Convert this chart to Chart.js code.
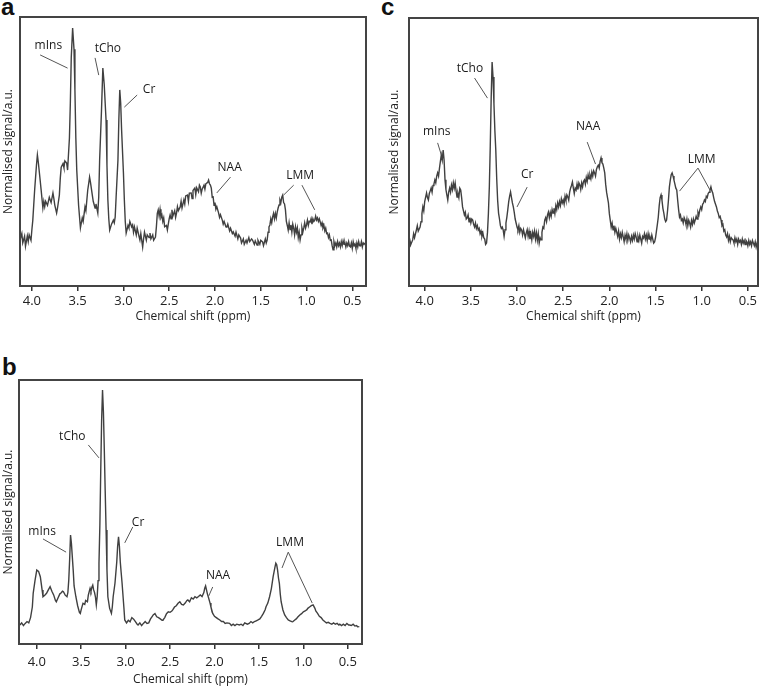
<!DOCTYPE html>
<html lang="en">
<head>
<meta charset="UTF-8">
<title>MRS spectra</title>
<script src="https://cdn.jsdelivr.net/npm/chart.js"></script>
<style>
  body { margin: 0; background: #fff; }
  #page { position: relative; width: 761px; height: 690px; overflow: hidden; }
  .panel { position: absolute; }
  .tag { position: absolute; font: bold 24px 'Liberation Sans', Arial, sans-serif; line-height: 1; color: #111; }
</style>
</head>
<body>
<div id="page">
  <div class="tag" style="left:1px;top:-5px">a</div>
  <div class="tag" style="left:381px;top:-5px">c</div>
  <div class="tag" style="left:2px;top:355px">b</div>
  <div class="panel" style="left:0;top:0"><canvas id="chartA" width="380" height="325"></canvas></div>
  <div class="panel" style="left:380px;top:0"><canvas id="chartC" width="381" height="325"></canvas></div>
  <div class="panel" style="left:0;top:330px"><canvas id="chartB" width="380" height="360"></canvas></div>
</div>
<script>
// chemical shift ticks (ppm)
const tickPpm = [4.0, 3.5, 3.0, 2.5, 2.0, 1.5, 1.0, 0.5];

// panel a
const ppmA = [
  4.13,4.11,4.10,4.08,4.07,4.05,4.04,4.03,4.01,4.00,
  3.99,3.97,3.95,3.94,3.93,3.91,3.90,3.88,3.87,3.86,
  3.85,3.83,3.81,3.79,3.77,3.76,3.75,3.73,3.72,3.70,
  3.69,3.68,3.66,3.65,3.64,3.62,3.61,3.59,3.58,3.57,
  3.555,3.54,3.53,3.52,3.51,3.49,3.47,3.46,3.45,3.44,
  3.42,3.41,3.39,3.38,3.37,3.36,3.34,3.33,3.31,3.30,
  3.28,3.27,3.26,3.24,3.225,3.21,3.19,3.18,3.17,3.16,
  3.15,3.13,3.11,3.10,3.09,3.08,3.06,3.05,3.04,3.03,
  3.02,3.00,2.99,2.98,2.97,2.95,2.94,2.93,2.91,2.90,
  2.89,2.88,2.86,2.85,2.83,2.82,2.81,2.79,2.78,2.77,
  2.75,2.74,2.72,2.71,2.70,2.68,2.67,2.65,2.64,2.63,
  2.62,2.61,2.60,2.59,2.58,2.57,2.56,2.55,2.53,2.52,
  2.51,2.50,2.49,2.48,2.47,2.46,2.44,2.43,2.42,2.41,
  2.40,2.38,2.37,2.36,2.34,2.33,2.32,2.30,2.29,2.28,
  2.26,2.25,2.24,2.22,2.21,2.20,2.18,2.17,2.16,2.15,
  2.14,2.12,2.11,2.10,2.08,2.07,2.06,2.05,2.04,2.03,
  2.02,2.01,2.00,1.99,1.98,1.96,1.95,1.94,1.92,1.91,
  1.90,1.88,1.87,1.86,1.84,1.83,1.81,1.80,1.78,1.77,
  1.75,1.74,1.72,1.71,1.69,1.68,1.66,1.65,1.63,1.62,
  1.60,1.59,1.57,1.56,1.54,1.53,1.51,1.50,1.48,1.47,
  1.45,1.44,1.43,1.42,1.41,1.40,1.39,1.38,1.37,1.36,
  1.35,1.34,1.33,1.32,1.31,1.30,1.29,1.28,1.27,1.26,
  1.25,1.24,1.23,1.22,1.21,1.20,1.19,1.18,1.17,1.16,
  1.15,1.14,1.13,1.12,1.11,1.10,1.09,1.08,1.07,1.06,
  1.05,1.04,1.03,1.02,1.01,1.00,0.99,0.98,0.97,0.96,
  0.95,0.94,0.93,0.92,0.91,0.90,0.89,0.88,0.87,0.86,
  0.85,0.84,0.83,0.82,0.81,0.80,0.79,0.78,0.77,0.76,
  0.75,0.74,0.73,0.72,0.71,0.70,0.69,0.68,0.67,0.66,
  0.65,0.64,0.63,0.62,0.61,0.60,0.59,0.58,0.57,0.56,
  0.55,0.54,0.53,0.52,0.51,0.50,0.49,0.48,0.47,0.46,
  0.45,0.44,0.43,0.42,0.41,0.40,0.39,0.38,0.37,0.36];
const sigA = [
  17.1,19.5,16.0,18.5,14.8,18.6,16.5,19.0,17.0,21.0,
  24.5,35.7,45.0,48.7,46.0,39.4,36.0,29.0,31.5,29.5,
  31.5,30.0,33.0,31.0,34.6,32.5,30.1,27.1,29.0,33.8,
  40.0,44.2,45.5,44.0,46.5,45.7,43.1,55.0,68.0,85.0,
  95.9,88.0,72.9,55.0,43.1,30.0,21.6,23.5,25.3,24.0,
  29.4,28.0,35.7,38.0,40.5,38.5,33.8,31.5,29.0,30.5,
  27.1,33.0,46.8,65.0,81.0,75.0,61.7,45.0,32.0,25.0,
  20.8,23.0,24.5,23.5,25.7,33.0,46.8,62.0,72.9,68.0,
  58.0,42.0,32.0,24.0,19.7,22.5,21.6,24.0,22.0,22.7,
  20.0,22.0,19.0,21.5,18.5,17.1,19.5,14.5,17.5,20.0,
  17.0,19.0,18.0,19.7,17.5,19.0,17.0,18.2,22.0,27.0,
  28.3,26.0,28.5,25.5,26.4,24.0,25.3,22.0,22.5,20.8,
  23.0,25.0,26.4,25.0,28.3,26.0,28.0,25.5,27.1,29.5,
  28.0,29.4,31.5,29.0,32.0,30.5,33.5,33.8,31.5,34.5,
  34.6,32.5,35.5,36.4,34.0,36.5,35.0,37.5,36.8,34.5,
  36.0,37.5,36.0,38.0,38.5,39.4,38.0,37.5,36.4,33.0,
  33.1,30.0,31.0,28.5,29.5,27.1,25.5,26.5,24.5,23.0,
  24.0,22.0,21.9,23.0,20.5,21.5,19.5,20.1,18.5,20.0,
  17.5,19.0,17.8,16.0,17.5,15.5,17.0,16.0,18.0,16.5,
  17.5,17.1,15.5,16.8,15.2,17.0,15.5,17.0,16.4,15.0,
  17.5,16.0,17.1,20.0,22.0,22.7,25.0,23.5,25.7,27.0,
  25.0,27.0,25.3,27.5,29.0,30.1,32.0,31.0,33.0,33.8,
  31.0,30.5,28.3,24.0,22.5,20.8,23.5,21.0,22.7,20.0,
  23.0,21.5,19.0,22.0,20.0,21.6,18.0,20.0,17.1,19.0,
  21.6,20.0,21.6,23.5,21.5,22.7,24.5,22.5,24.0,23.8,
  25.0,23.0,25.0,24.0,24.5,26.0,24.5,25.3,24.0,25.0,
  23.8,22.5,23.5,21.6,22.5,20.5,21.5,19.5,19.7,18.0,
  19.0,17.0,17.1,15.0,13.5,16.5,15.0,16.0,14.5,16.5,
  15.0,16.0,14.5,16.5,15.0,16.8,15.5,16.0,14.5,16.0,
  15.0,16.5,14.8,14.5,16.0,14.0,16.5,15.0,15.6,14.0,
  16.0,14.5,16.5,15.0,14.9,16.5,14.5,16.0,15.5,16.0];

// panel b
const ppmB = [
  4.19,4.17,4.15,4.13,4.11,4.09,4.07,4.05,4.04,4.02,
  4.00,3.98,3.96,3.94,3.93,3.91,3.89,3.87,3.85,3.83,
  3.81,3.79,3.78,3.76,3.74,3.73,3.71,3.70,3.68,3.66,
  3.65,3.64,3.63,3.62,3.61,3.60,3.59,3.58,3.56,3.54,
  3.52,3.51,3.50,3.48,3.46,3.45,3.43,3.42,3.40,3.39,
  3.38,3.37,3.36,3.35,3.34,3.33,3.32,3.31,3.30,3.29,
  3.28,3.27,3.26,3.25,3.24,3.23,3.22,3.21,3.20,3.18,
  3.16,3.15,3.14,3.12,3.10,3.09,3.08,3.07,3.06,3.05,
  3.04,3.02,3.01,2.99,2.97,2.95,2.93,2.91,2.89,2.87,
  2.86,2.84,2.82,2.80,2.78,2.76,2.74,2.72,2.70,2.69,
  2.67,2.65,2.63,2.61,2.59,2.58,2.56,2.54,2.52,2.50,
  2.48,2.47,2.45,2.43,2.41,2.39,2.37,2.35,2.33,2.31,
  2.30,2.28,2.26,2.24,2.22,2.20,2.18,2.16,2.14,2.12,
  2.11,2.10,2.09,2.08,2.07,2.05,2.04,2.02,2.00,1.98,
  1.96,1.94,1.92,1.90,1.88,1.86,1.83,1.81,1.79,1.77,
  1.75,1.72,1.70,1.68,1.66,1.63,1.61,1.59,1.57,1.55,
  1.53,1.51,1.49,1.47,1.45,1.43,1.42,1.40,1.38,1.36,
  1.34,1.32,1.31,1.30,1.29,1.28,1.27,1.26,1.25,1.23,
  1.21,1.19,1.17,1.15,1.13,1.12,1.10,1.08,1.06,1.04,
  1.02,1.00,0.98,0.96,0.95,0.93,0.91,0.89,0.87,0.86,
  0.84,0.82,0.80,0.78,0.76,0.74,0.72,0.70,0.68,0.66,
  0.64,0.62,0.60,0.59,0.57,0.55,0.53,0.51,0.49,0.48,
  0.46,0.44,0.42,0.40,0.39,0.37];
const sigB = [
  7.2,8.0,7.0,7.8,8.5,8.0,10.0,14.0,19.3,24.0,
  28.0,27.5,25.5,20.5,17.9,18.5,19.2,20.5,21.7,20.0,
  18.6,16.5,16.0,17.5,19.0,19.2,20.0,19.8,18.5,17.9,
  19.5,24.2,32.0,41.3,38.0,33.0,28.0,22.0,17.9,14.5,
  12.0,11.6,13.0,15.4,15.0,16.5,16.0,18.5,21.1,20.0,
  21.5,22.3,20.5,19.5,17.9,14.8,18.0,24.0,30.6,45.0,
  65.9,85.0,96.2,88.0,73.5,58.0,43.2,28.0,17.9,13.5,
  11.6,14.0,18.0,23.0,31.0,37.0,40.6,37.0,31.0,27.0,
  23.0,14.0,9.1,8.0,9.0,8.4,10.0,9.4,8.5,7.5,
  7.2,8.0,7.0,7.8,8.5,7.8,8.0,9.5,10.5,11.0,
  11.5,10.3,10.0,9.5,9.0,9.1,10.0,11.5,12.2,12.0,
  12.5,12.9,14.0,14.5,15.4,16.0,15.0,14.8,15.5,16.5,
  16.7,16.0,17.5,17.0,17.9,17.5,18.0,18.6,18.0,19.5,
  21.1,22.0,20.5,19.0,17.9,15.5,14.0,11.6,10.5,10.0,
  9.5,9.1,8.5,8.5,7.8,8.0,7.8,7.0,7.5,7.0,
  7.5,7.2,7.5,7.0,8.0,7.5,7.8,8.5,8.0,8.5,
  8.8,9.1,9.5,10.5,11.6,13.0,14.1,15.5,17.9,21.0,
  25.5,29.0,30.6,30.0,28.0,25.0,23.0,19.0,16.0,12.9,
  11.0,10.0,9.1,8.8,8.5,8.4,9.0,9.5,10.3,11.0,
  11.5,12.2,12.5,13.0,13.5,14.0,14.5,14.8,13.5,12.5,
  11.6,10.5,10.0,9.1,8.5,8.0,8.2,7.8,7.5,8.0,
  7.5,7.8,7.2,7.5,7.0,7.5,7.0,7.8,7.2,7.2,
  7.0,7.5,6.8,7.0,6.5,6.6];

// panel c
const ppmC = [
  4.17,4.16,4.15,4.13,4.12,4.11,4.09,4.08,4.07,4.05,
  4.04,4.03,4.02,4.01,4.00,3.98,3.97,3.96,3.95,3.94,
  3.93,3.92,3.91,3.90,3.89,3.88,3.87,3.86,3.85,3.84,
  3.83,3.82,3.81,3.80,3.79,3.78,3.77,3.76,3.75,3.74,
  3.73,3.72,3.71,3.70,3.69,3.68,3.67,3.66,3.65,3.64,
  3.63,3.62,3.61,3.60,3.59,3.58,3.57,3.56,3.55,3.54,
  3.53,3.52,3.51,3.50,3.49,3.48,3.47,3.46,3.45,3.44,
  3.43,3.42,3.41,3.40,3.39,3.38,3.37,3.36,3.35,3.34,
  3.33,3.32,3.31,3.30,3.29,3.28,3.27,3.26,3.25,3.24,
  3.23,3.22,3.21,3.20,3.19,3.18,3.17,3.16,3.15,3.14,
  3.13,3.12,3.11,3.10,3.09,3.08,3.07,3.06,3.05,3.04,
  3.03,3.02,3.01,3.00,2.99,2.98,2.97,2.96,2.95,2.94,
  2.93,2.92,2.91,2.90,2.89,2.88,2.87,2.86,2.85,2.84,
  2.83,2.82,2.81,2.80,2.79,2.78,2.77,2.76,2.75,2.74,
  2.73,2.72,2.71,2.70,2.69,2.68,2.67,2.66,2.65,2.64,
  2.63,2.62,2.61,2.60,2.59,2.58,2.57,2.56,2.55,2.54,
  2.53,2.52,2.51,2.50,2.49,2.48,2.47,2.46,2.45,2.44,
  2.43,2.42,2.41,2.40,2.39,2.38,2.37,2.36,2.35,2.34,
  2.33,2.32,2.31,2.30,2.29,2.28,2.27,2.26,2.25,2.24,
  2.23,2.22,2.21,2.20,2.19,2.18,2.17,2.16,2.15,2.14,
  2.13,2.12,2.11,2.10,2.09,2.08,2.07,2.06,2.05,2.04,
  2.03,2.02,2.01,2.00,1.99,1.98,1.97,1.96,1.95,1.94,
  1.93,1.92,1.91,1.90,1.89,1.88,1.87,1.86,1.85,1.84,
  1.83,1.82,1.81,1.80,1.79,1.78,1.77,1.76,1.75,1.74,
  1.73,1.72,1.71,1.70,1.69,1.68,1.67,1.66,1.65,1.64,
  1.63,1.62,1.61,1.60,1.59,1.58,1.57,1.56,1.55,1.54,
  1.53,1.52,1.51,1.50,1.49,1.48,1.47,1.46,1.45,1.44,
  1.43,1.42,1.41,1.40,1.39,1.38,1.37,1.36,1.35,1.34,
  1.33,1.32,1.31,1.30,1.29,1.28,1.27,1.26,1.25,1.24,
  1.23,1.22,1.21,1.20,1.19,1.18,1.17,1.16,1.15,1.14,
  1.13,1.12,1.11,1.10,1.09,1.08,1.07,1.06,1.05,1.04,
  1.03,1.02,1.01,1.00,0.99,0.98,0.97,0.96,0.95,0.94,
  0.93,0.92,0.91,0.90,0.89,0.88,0.87,0.86,0.85,0.84,
  0.83,0.82,0.81,0.80,0.79,0.78,0.77,0.76,0.75,0.74,
  0.73,0.72,0.71,0.70,0.69,0.68,0.67,0.66,0.65,0.64,
  0.63,0.62,0.61,0.60,0.59,0.58,0.57,0.56,0.55,0.54,
  0.53,0.52,0.51,0.50,0.49,0.48,0.47,0.46,0.45,0.44,
  0.43,0.42,0.41,0.40,0.39];
const sigC = [
  14.7,17.0,15.5,17.2,19.5,18.0,20.9,22.5,20.5,22.0,
  24.0,27.0,29.5,28.0,31.5,34.7,33.0,32.1,34.5,35.5,
  36.6,35.0,37.5,38.0,39.6,38.5,41.0,42.2,41.0,44.0,
  46.5,48.9,47.0,50.7,47.0,39.6,36.0,34.0,32.1,35.0,
  36.5,35.0,37.7,36.0,38.5,36.5,38.4,35.5,33.2,34.5,
  33.0,36.5,35.8,33.0,29.5,28.0,26.5,27.5,25.0,25.4,
  26.5,24.0,25.5,23.5,25.0,24.6,23.0,22.0,23.5,21.5,
  22.5,20.9,21.5,19.5,20.5,18.5,19.8,18.0,17.5,15.5,
  16.0,20.0,27.0,36.9,52.0,70.0,83.6,78.0,68.0,58.0,
  50.7,40.0,32.0,27.2,25.0,22.5,21.5,22.0,20.9,18.5,
  21.0,23.5,25.7,28.5,31.5,33.5,35.1,33.0,31.0,29.5,
  27.5,25.0,23.5,22.0,21.0,22.5,20.0,21.5,20.9,19.0,
  21.0,19.5,18.0,19.8,21.0,18.5,20.5,17.5,19.5,17.2,
  20.0,18.5,20.5,17.5,19.8,17.0,19.5,16.0,18.0,17.2,
  20.0,22.0,21.5,24.6,25.5,24.0,26.5,27.6,25.5,27.5,
  26.0,28.5,27.2,29.0,27.0,30.0,28.5,31.0,29.5,31.5,
  30.0,32.5,31.0,32.1,30.5,33.5,32.0,34.0,33.2,32.0,
  35.0,36.5,37.5,38.8,36.5,34.5,36.5,35.8,38.0,36.0,
  38.5,37.7,36.0,38.5,37.0,39.0,39.6,38.0,40.5,39.0,
  41.5,40.0,41.4,40.0,42.5,41.0,43.0,42.2,41.0,43.5,
  44.5,45.1,44.0,46.5,47.8,46.0,45.5,44.0,42.2,38.0,
  35.0,33.0,31.0,27.0,24.5,22.0,23.5,21.0,22.5,20.0,
  21.5,20.1,18.5,20.5,17.5,19.5,18.0,20.0,18.3,16.5,
  19.0,17.5,19.5,17.0,19.0,17.9,16.5,18.5,17.0,19.0,
  17.5,19.5,18.3,16.5,18.5,17.0,19.0,17.5,16.0,18.5,
  17.9,19.5,17.5,19.0,17.0,19.5,17.5,18.3,17.0,19.0,
  17.5,16.0,16.4,18.0,20.5,23.0,25.7,30.0,33.0,34.0,
  32.0,29.0,27.2,25.0,24.0,24.6,28.0,32.0,36.9,39.5,
  41.5,42.2,41.0,39.5,38.0,36.5,35.8,32.0,28.5,25.7,
  26.5,24.5,25.0,23.5,25.5,24.6,23.0,25.0,22.5,24.5,
  23.5,22.0,24.5,23.0,25.0,23.5,24.6,26.0,25.0,27.5,
  26.5,28.4,29.5,28.5,30.5,31.0,32.1,31.5,33.5,33.0,
  34.5,35.0,35.8,37.0,35.5,34.7,33.0,31.5,30.5,29.5,
  28.0,27.0,25.5,26.0,24.6,22.5,23.0,20.5,21.0,19.0,
  18.3,19.5,17.0,18.5,16.5,18.0,17.5,17.2,16.0,18.0,
  16.5,17.5,15.5,17.5,16.4,17.0,15.5,17.5,16.0,17.0,
  15.5,17.0,16.4,15.0,17.0,15.5,16.5,15.0,17.0,16.0,
  15.0,16.5,14.5,16.0,15.3];

// peak labels: text position and leader lines, in (ppm, signal)
const labelsA = [
  { text: 'mIns', at: [3.82, 89.2], lines: [[3.91, 85.9, 3.61, 81.0]] },
  { text: 'tCho', at: [3.17, 88.1], lines: [[3.31, 84.8, 3.27, 78.4]] },
  { text: 'Cr',   at: [2.72, 73.2], lines: [[2.85, 71.0, 2.99, 66.5]] },
  { text: 'NAA',  at: [1.84, 44.1], lines: [[1.83, 40.5, 1.98, 34.6]] },
  { text: 'LMM',  at: [1.07, 40.9], lines: [[1.14, 37.5, 1.25, 33.8], [1.05, 37.5, 0.91, 28.3]] }
];
const labelsB = [
  { text: 'mIns', at: [3.94, 42.4], lines: [[3.93, 39.8, 3.67, 34.8]] },
  { text: 'tCho', at: [3.60, 78.4], lines: [[3.42, 75.4, 3.30, 70.5]] },
  { text: 'Cr',   at: [2.86, 46.0], lines: [[2.92, 44.3, 3.01, 38.3]] },
  { text: 'NAA',  at: [1.96, 26.1], lines: [[2.02, 21.6, 2.07, 17.8]] },
  { text: 'LMM',  at: [1.15, 38.3], lines: [[1.17, 34.8, 1.24, 28.8], [1.17, 34.8, 0.90, 15.5]] }
];
const labelsC = [
  { text: 'mIns', at: [3.87, 57.5], lines: [[3.86, 53.4, 3.82, 48.9]] },
  { text: 'tCho', at: [3.51, 81.3], lines: [[3.46, 77.6, 3.32, 70.1]] },
  { text: 'Cr',   at: [2.89, 41.4], lines: [[2.89, 36.9, 3.00, 29.5]] },
  { text: 'NAA',  at: [2.23, 59.3], lines: [[2.24, 53.7, 2.15, 45.5]] },
  { text: 'LMM',  at: [1.00, 47.0], lines: [[1.04, 44.0, 1.24, 35.4], [1.04, 44.0, 0.91, 35.8]] }
];

const FONT = "'Open Sans', 'Liberation Sans', Arial, sans-serif";

// frame box + peak annotations
const peakLabels = {
  id: 'peakLabels',
  afterDatasetsDraw(chart, args, opts) {
    const { ctx, chartArea: a, scales: { x, y } } = chart;
    ctx.save();
    ctx.strokeStyle = '#444';
    ctx.lineWidth = 2;
    ctx.strokeRect(a.left, a.top, a.right - a.left, a.bottom - a.top);
    ctx.strokeStyle = '#555';
    ctx.lineWidth = 1;
    ctx.fillStyle = '#1a1a1a';
    ctx.font = '12px ' + FONT;
    ctx.textAlign = 'center';
    ctx.textBaseline = 'middle';
    (opts.items || []).forEach(item => {
      ctx.fillText(item.text, x.getPixelForValue(item.at[0]), y.getPixelForValue(item.at[1]));
      item.lines.forEach(l => {
        ctx.beginPath();
        ctx.moveTo(x.getPixelForValue(l[0]), y.getPixelForValue(l[1]));
        ctx.lineTo(x.getPixelForValue(l[2]), y.getPixelForValue(l[3]));
        ctx.stroke();
      });
    });
    ctx.restore();
  }
};

function makeChart(id, ppm, sig, labels, cfg) {
  return new Chart(document.getElementById(id), {
    type: 'line',
    data: {
      datasets: [{
        data: ppm.map((p, i) => ({ x: p, y: sig[i] })),
        borderColor: '#404040',
        borderWidth: 1.4,
        pointRadius: 0,
        tension: 0,
        fill: false
      }]
    },
    options: {
      responsive: false,
      animation: false,
      layout: { padding: cfg.padding },
      plugins: {
        legend: { display: false },
        tooltip: { enabled: false },
        peakLabels: { items: labels }
      },
      scales: {
        x: {
          type: 'linear',
          reverse: true,
          min: cfg.xMin,
          max: cfg.xMax,
          afterBuildTicks: s => { s.ticks = tickPpm.map(v => ({ value: v })); },
          afterFit: s => { s.height = cfg.xHeight; },
          ticks: {
            callback: v => Number(v).toFixed(1),
            color: '#222',
            font: { size: 13, family: FONT },
            padding: cfg.tickPad,
            maxRotation: 0,
            autoSkip: false
          },
          grid: { drawOnChartArea: false, tickLength: 5, color: '#333', lineWidth: 1.5 },
          border: { display: false },
          title: {
            display: true,
            text: 'Chemical shift (ppm)',
            color: '#222',
            font: { size: 12, family: FONT },
            padding: { top: 0, bottom: cfg.titlePad }
          }
        },
        y: {
          min: 0,
          max: 100,
          afterFit: s => { s.width = cfg.yWidth; },
          ticks: { display: false },
          grid: { display: false },
          border: { display: false },
          title: {
            display: true,
            text: 'Normalised signal/a.u.',
            color: '#222',
            font: { size: 12, family: FONT },
            padding: { top: 1, bottom: 0 }
          }
        }
      }
    },
    plugins: [peakLabels]
  });
}

makeChart('chartA', ppmA, sigA, labelsA, {
  xMin: 0.35, xMax: 4.13, padding: { top: 17, right: 14, left: 0, bottom: 0 },
  yWidth: 20, xHeight: 39, tickPad: 2, titlePad: 1
});
makeChart('chartC', ppmC, sigC, labelsC, {
  xMin: 0.39, xMax: 4.17, padding: { top: 18, right: 3, left: 6, bottom: 0 },
  yWidth: 23, xHeight: 39, tickPad: 2, titlePad: 1
});
makeChart('chartB', ppmB, sigB, labelsB, {
  xMin: 0.34, xMax: 4.20, padding: { top: 50, right: 18, left: 0, bottom: 0 },
  yWidth: 19, xHeight: 46, tickPad: 5, titlePad: 3
});
</script>
</body>
</html>
